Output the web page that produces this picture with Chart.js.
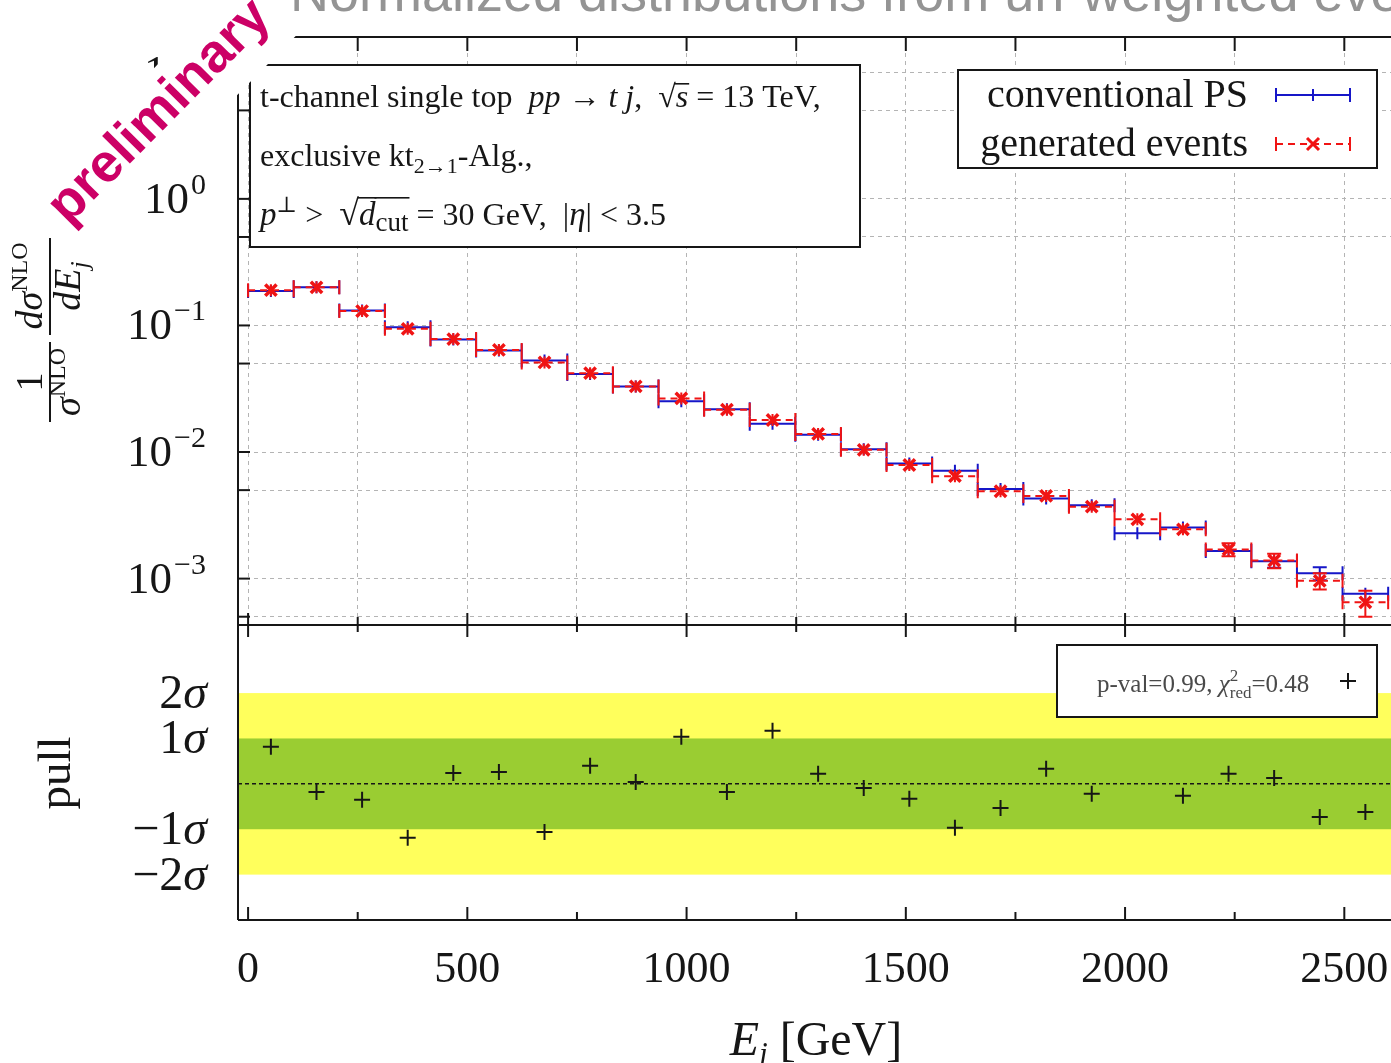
<!DOCTYPE html>
<html>
<head>
<meta charset="utf-8">
<script src="https://cdn.jsdelivr.net/npm/chart.js@4.4.0/dist/chart.umd.min.js"></script>
<style>
  html, body { margin: 0; padding: 0; background: #fff; overflow: hidden; }
  #wrap { position: relative; width: 1391px; height: 1063px; overflow: hidden; }
  canvas { position: absolute; left: 0; top: 0; }
</style>
</head>
<body>
<div id="wrap">
  <canvas id="specChart" width="1420" height="1063"></canvas>
  <canvas id="pullChart" width="1420" height="1063"></canvas>
</div>
<script>
// E_j binning, 104 GeV per bin
const binEdges = [0, 104, 208, 312, 416, 520, 624, 728, 832, 936, 1040, 1144, 1248, 1352,
  1456, 1560, 1664, 1768, 1872, 1976, 2080, 2184, 2288, 2392, 2496, 2600];
const binCenters = [52, 156, 260, 364, 468, 572, 676, 780, 884, 988, 1092, 1196, 1300, 1404,
  1508, 1612, 1716, 1820, 1924, 2028, 2132, 2236, 2340, 2444, 2548];

// normalised distributions
const conventionalPS = [0.1874, 0.2006, 0.131, 0.0967, 0.0775, 0.0635, 0.0529, 0.0413, 0.033,
  0.0252, 0.0218, 0.0167, 0.0137, 0.0105, 0.0081, 0.0071, 0.0051, 0.0043, 0.0038, 0.00228,
  0.00253, 0.00165, 0.00137, 0.00110, 0.00076];
const conventionalErr = [0.0020, 0.0021, 0.0018, 0.0015, 0.0014, 0.0013, 0.0012, 0.0011, 0.0009,
  0.0008, 0.0007, 0.0006, 0.00055, 0.00048, 0.0004, 0.0004, 0.00033, 0.0003, 0.00027, 0.00023,
  0.00022, 0.00017, 0.00015, 0.00013, 0.00007];
const generatedEv = [0.190, 0.200, 0.130, 0.094, 0.078, 0.064, 0.051, 0.042, 0.033, 0.0265,
  0.0216, 0.0179, 0.0139, 0.0104, 0.0079, 0.00645, 0.0049, 0.0045, 0.0037, 0.00294, 0.00245,
  0.0017, 0.00139, 0.00096, 0.00065];
const generatedErr = [0.0023, 0.0024, 0.0020, 0.0016, 0.0016, 0.0014, 0.0013, 0.0012, 0.0010,
  0.0009, 0.0008, 0.0007, 0.00063, 0.00052, 0.00043, 0.00042, 0.00034, 0.00034, 0.0003, 0.0003,
  0.00025, 0.0002, 0.00018, 0.00014, 0.00015];
// pull per bin in units of sigma
const pullValues = [0.82, -0.18, -0.35, -1.19, 0.24, 0.26, -1.06, 0.40, 0.04, 1.04, -0.18, 1.17,
  0.22, -0.09, -0.33, -0.97, -0.53, 0.33, -0.22, 1.9, -0.26, 0.22, 0.13, -0.73, -0.62];

const xTicks = [0, 250, 500, 750, 1000, 1250, 1500, 1750, 2000, 2250, 2500];
const xLabels = [0, 500, 1000, 1500, 2000, 2500];
const yTicks = [5e-4, 1e-3, 5e-3, 1e-2, 5e-2, 0.1, 0.5, 1, 5, 10];
const yPowers = [1, 0, -1, -2, -3];
const pullTicks = [2, 1, -1, -2];

const SERIF = '"Liberation Serif", "Times New Roman", "DejaVu Serif", serif';
const SANS = '"Liberation Sans", Arial, sans-serif';
const RED = '#f01414';
const BLUE = '#1616c8';
const GRID = '#b4b4b4';
const INK = '#161616';
const CAP = 7;

function fnt(p) { return (p.it ? 'italic ' : '') + p.s + 'px ' + SERIF; }
function runsWidth(ctx, parts) {
  let w = 0;
  parts.forEach(p => { ctx.font = fnt(p); if (p.adv !== false) w += ctx.measureText(p.t).width; });
  return w;
}
// draw a row of text pieces (italics, sub/superscripts, overlines)
function drawRuns(ctx, x, y, parts, overY) {
  parts.forEach(p => {
    ctx.font = fnt(p);
    ctx.fillText(p.t, x, y + (p.dy || 0));
    const w = ctx.measureText(p.t).width;
    if (p.over) ctx.fillRect(x - 1, y + overY, w + 2, 1.6);
    if (p.adv !== false) x += w;
  });
  return x;
}

function steps(vals) {
  const pts = [];
  vals.forEach((v, i) => {
    pts.push({x: binEdges[i], y: v}, {x: binEdges[i + 1], y: v}, {x: binEdges[i + 1], y: null});
  });
  return pts;
}

function drawBins(chart, vals, errs, color) {
  const {ctx, chartArea: a} = chart;
  const xs = chart.scales.x, ys = chart.scales.y;
  ctx.save();
  ctx.beginPath();
  ctx.rect(a.left, a.top, a.right - a.left, a.bottom - a.top);
  ctx.clip();
  ctx.strokeStyle = color;
  ctx.lineWidth = 2;
  ctx.beginPath();
  vals.forEach((v, i) => {
    const y = ys.getPixelForValue(v);
    const xl = xs.getPixelForValue(binEdges[i]);
    const xr = xs.getPixelForValue(binEdges[i + 1]);
    const xc = xs.getPixelForValue(binCenters[i]);
    const yt = Math.min(ys.getPixelForValue(v + errs[i]), y - 6);
    const yb = Math.max(ys.getPixelForValue(v - errs[i]), y + 6);
    ctx.moveTo(xl, y - CAP); ctx.lineTo(xl, y + CAP);
    ctx.moveTo(xr, y - CAP); ctx.lineTo(xr, y + CAP);
    ctx.moveTo(xc, yt); ctx.lineTo(xc, yb);
    if (y - yt > 6) { ctx.moveTo(xc - 7, yt); ctx.lineTo(xc + 7, yt); }
    if (yb - y > 6) { ctx.moveTo(xc - 7, yb); ctx.lineTo(xc + 7, yb); }
  });
  ctx.stroke();
  ctx.restore();
}

function line(ctx, x1, y1, x2, y2) {
  ctx.beginPath(); ctx.moveTo(x1, y1); ctx.lineTo(x2, y2); ctx.stroke();
}

const specDecor = {
  id: 'specDecor',
  beforeDatasetsDraw(chart) {
    drawBins(chart, conventionalPS, conventionalErr, BLUE);
  },
  afterDatasetsDraw(chart) {
    drawBins(chart, generatedEv, generatedErr, RED);
    const {ctx, chartArea: a} = chart;
    const xs = chart.scales.x, ys = chart.scales.y;
    ctx.save();
    ctx.strokeStyle = INK;
    ctx.lineWidth = 2;
    line(ctx, a.left, a.top, a.right, a.top);
    line(ctx, a.left, a.top, a.left, a.bottom);
    line(ctx, a.left, a.bottom, a.right, a.bottom);
    xTicks.forEach(v => {
      const x = xs.getPixelForValue(v);
      line(ctx, x, a.top, x, a.top + 14);
      line(ctx, x, a.bottom, x, a.bottom - (v % 500 === 0 ? 12 : 8));
    });
    yTicks.forEach(v => {
      const y = ys.getPixelForValue(v);
      line(ctx, a.left, y, a.left + 12, y);
    });
    ctx.restore();
  },
  afterDraw(chart) {
    const {ctx} = chart;
    const ys = chart.scales.y;
    ctx.save();
    ctx.fillStyle = INK;
    ctx.textBaseline = 'alphabetic';

    // decade labels 10^n
    yPowers.forEach(n => {
      const y = ys.getPixelForValue(Math.pow(10, n));
      const sup = n < 0 ? '\u2212' + (-n) : String(n);
      ctx.font = '30px ' + SERIF;
      const ws = ctx.measureText(sup).width;
      ctx.fillText(sup, 206 - ws, y - 5);
      ctx.font = '45px ' + SERIF;
      const wb = ctx.measureText('10').width;
      ctx.fillText('10', 206 - ws - wb - 2, y + 14);
    });

    // y axis title: 1/sigma^NLO dsigma^NLO/dE_j, rotated
    ctx.save();
    ctx.translate(50, 330);
    ctx.rotate(-Math.PI / 2);
    ctx.fillRect(-92, -1, 80, 2);
    ctx.fillRect(-5, -1, 97, 2);
    const num1 = [{t: '1', s: 38}];
    const den1 = [{t: '\u03c3', s: 38, it: true}, {t: 'NLO', s: 24, dy: -15}];
    const num2 = [{t: 'd\u03c3', s: 38, it: true}, {t: 'NLO', s: 24, dy: -15}];
    const den2 = [{t: 'dE', s: 38, it: true}, {t: 'j', s: 26, it: true, dy: 8}];
    drawRuns(ctx, -52 - runsWidth(ctx, num1) / 2, -8, num1, 0);
    drawRuns(ctx, -52 - runsWidth(ctx, den1) / 2, 30, den1, 0);
    drawRuns(ctx, 44 - runsWidth(ctx, num2) / 2, -8, num2, 0);
    drawRuns(ctx, 44 - runsWidth(ctx, den2) / 2, 30, den2, 0);
    ctx.restore();

    // process box
    ctx.fillStyle = '#fff';
    ctx.fillRect(250, 65, 610, 182);
    ctx.strokeStyle = INK;
    ctx.lineWidth = 2;
    ctx.strokeRect(250, 65, 610, 182);
    ctx.fillStyle = INK;
    drawRuns(ctx, 260, 107, [
      {t: 't-channel single top  ', s: 32}, {t: 'pp', s: 32, it: true}, {t: ' \u2192 ', s: 32},
      {t: 't j', s: 32, it: true}, {t: ',  ', s: 32}, {t: '\u221a', s: 32},
      {t: 's', s: 32, it: true, over: true}, {t: ' = 13 TeV,', s: 32}
    ], -24);
    drawRuns(ctx, 260, 166, [
      {t: 'exclusive kt', s: 32}, {t: '2\u21921', s: 22, dy: 7}, {t: '-Alg.,', s: 32}
    ], 0);
    drawRuns(ctx, 260, 225, [
      {t: 'p', s: 33, it: true}, {t: '\u22a5', s: 22, dy: -13}, {t: ' >  ', s: 32},
      {t: '\u221a', s: 36}, {t: 'd', s: 33, it: true, over: true},
      {t: 'cut', s: 27, dy: 6, over: true}, {t: ' = 30 GeV,  |', s: 32},
      {t: '\u03b7', s: 33, it: true}, {t: '| < 3.5', s: 32}
    ], -28);

    // legend
    ctx.fillStyle = '#fff';
    ctx.fillRect(958, 70, 419, 98);
    ctx.strokeRect(958, 70, 419, 98);
    ctx.fillStyle = INK;
    ctx.font = '40px ' + SERIF;
    ctx.textAlign = 'right';
    ctx.fillText('conventional PS', 1248, 107);
    ctx.fillText('generated events', 1248, 156);
    ctx.textAlign = 'left';
    ctx.lineWidth = 2;
    ctx.strokeStyle = BLUE;
    line(ctx, 1276, 95, 1350, 95);
    line(ctx, 1276, 88, 1276, 102);
    line(ctx, 1350, 88, 1350, 102);
    line(ctx, 1313, 89, 1313, 101);
    ctx.strokeStyle = RED;
    line(ctx, 1276, 137, 1276, 151);
    line(ctx, 1350, 137, 1350, 151);
    ctx.setLineDash([7, 5]);
    line(ctx, 1276, 144, 1350, 144);
    ctx.setLineDash([]);
    ctx.lineWidth = 3;
    line(ctx, 1307, 138, 1319, 150);
    line(ctx, 1307, 150, 1319, 138);

    // title line at the top
    ctx.fillStyle = '#949494';
    ctx.font = '54px ' + SANS;
    ctx.fillText('Normalized distributions from un-weighted events', 290, 11);

    // preliminary stamp
    ctx.translate(68, 226);
    ctx.rotate(-0.79);
    ctx.font = 'bold 54px ' + SANS;
    const w = ctx.measureText('preliminary').width;
    ctx.fillStyle = '#fff';
    ctx.fillRect(-8, -50, w + 16, 78);
    ctx.fillStyle = '#cc0066';
    ctx.fillText('preliminary', 0, 0);
    ctx.restore();
  }
};

const pullDecor = {
  id: 'pullDecor',
  beforeDatasetsDraw(chart) {
    const {ctx, chartArea: a} = chart;
    const ys = chart.scales.y;
    ctx.save();
    ctx.fillStyle = '#ffff5c';
    ctx.fillRect(a.left, ys.getPixelForValue(2), a.right - a.left, ys.getPixelForValue(-2) - ys.getPixelForValue(2));
    ctx.fillStyle = '#9acd32';
    ctx.fillRect(a.left, ys.getPixelForValue(1), a.right - a.left, ys.getPixelForValue(-1) - ys.getPixelForValue(1));
    ctx.strokeStyle = INK;
    ctx.lineWidth = 1.5;
    ctx.setLineDash([4, 3]);
    const y0 = ys.getPixelForValue(0);
    line(ctx, a.left, y0, a.right, y0);
    ctx.restore();
  },
  afterDatasetsDraw(chart) {
    const {ctx, chartArea: a} = chart;
    const xs = chart.scales.x, ys = chart.scales.y;
    ctx.save();
    ctx.strokeStyle = INK;
    ctx.fillStyle = INK;
    ctx.lineWidth = 2;
    line(ctx, a.left, a.top, a.right, a.top);
    line(ctx, a.left, a.top, a.left, a.bottom);
    line(ctx, a.left, a.bottom, a.right, a.bottom);
    xTicks.forEach(v => {
      const x = xs.getPixelForValue(v);
      const major = v % 500 === 0;
      line(ctx, x, a.top, x, a.top + (major ? 12 : 7));
      line(ctx, x, a.bottom, x, a.bottom - (major ? 13 : 8));
    });

    // sigma labels
    pullTicks.forEach(v => {
      const y = ys.getPixelForValue(v) + 15;
      const parts = [{t: (v < 0 ? '\u2212' : '') + Math.abs(v), s: 48}, {t: '\u03c3', s: 48, it: true}];
      drawRuns(ctx, 207 - runsWidth(ctx, parts), y, parts, 0);
    });

    // energy labels
    ctx.font = '44px ' + SERIF;
    ctx.textAlign = 'center';
    xLabels.forEach(v => ctx.fillText(String(v), xs.getPixelForValue(v), 982));
    ctx.textAlign = 'left';
    const xt = [{t: 'E', s: 48, it: true}, {t: 'j', s: 31, it: true, dy: 9}, {t: ' [GeV]', s: 48}];
    drawRuns(ctx, 816 - runsWidth(ctx, xt) / 2, 1055, xt, 0);

    // rotated "pull"
    ctx.save();
    ctx.translate(70, 773);
    ctx.rotate(-Math.PI / 2);
    ctx.font = '47px ' + SERIF;
    ctx.textAlign = 'center';
    ctx.fillText('pull', 0, 0);
    ctx.restore();

    // goodness-of-fit box
    ctx.fillStyle = '#fff';
    ctx.fillRect(1057, 645, 320, 72);
    ctx.strokeRect(1057, 645, 320, 72);
    ctx.fillStyle = '#4a4a4a';
    drawRuns(ctx, 1097, 692, [
      {t: 'p-val=0.99, ', s: 25}, {t: '\u03c7', s: 25, it: true},
      {t: '2', s: 17, dy: -11, adv: false}, {t: 'red', s: 17, dy: 6}, {t: '=0.48', s: 25}
    ], 0);
    ctx.strokeStyle = INK;
    line(ctx, 1340, 681, 1356, 681);
    line(ctx, 1348, 673, 1348, 689);
    ctx.restore();
  }
};

const sharedX = {
  type: 'linear', min: -23, max: 2627,
  ticks: {display: false},
  border: {display: false, dash: [4, 4]},
  afterBuildTicks: s => { s.ticks = xTicks.map(v => ({value: v})); },
  afterFit: s => { s.height = 0; }
};

new Chart(document.getElementById('specChart'), {
  type: 'line',
  data: {
    datasets: [{
      label: 'generated events',
      data: binCenters.map((x, i) => ({x: x, y: generatedEv[i]})),
      showLine: false,
      pointStyle: 'crossRot',
      pointRadius: 8,
      borderWidth: 3.5,
      borderColor: RED,
      backgroundColor: RED
    }, {
      label: 'generated events',
      data: steps(generatedEv),
      borderColor: RED,
      borderWidth: 2,
      borderDash: [7, 5],
      pointRadius: 0,
      spanGaps: false
    }, {
      label: 'conventional PS',
      data: steps(conventionalPS),
      borderColor: BLUE,
      borderWidth: 2,
      pointRadius: 0,
      spanGaps: false
    }]
  },
  options: {
    responsive: false,
    animation: false,
    devicePixelRatio: 1,
    layout: {padding: {left: 238, top: 37, right: 20, bottom: 438}},
    plugins: {legend: {display: false}, tooltip: {enabled: false}},
    scales: {
      x: Object.assign({}, sharedX, {grid: {color: GRID, lineWidth: 1, drawTicks: false}}),
      y: {
        type: 'logarithmic', min: 4.3e-4, max: 19,
        ticks: {display: false},
        grid: {color: GRID, lineWidth: 1, drawTicks: false},
        border: {display: false, dash: [4, 4]},
        afterBuildTicks: s => { s.ticks = yTicks.map(v => ({value: v})); },
        afterFit: s => { s.width = 0; }
      }
    }
  },
  plugins: [specDecor]
});

new Chart(document.getElementById('pullChart'), {
  type: 'scatter',
  data: {
    datasets: [{
      label: 'pull',
      data: binCenters.map((x, i) => ({x: x, y: pullValues[i]})),
      pointStyle: 'cross',
      pointRadius: 8,
      borderWidth: 2,
      borderColor: INK
    }]
  },
  options: {
    responsive: false,
    animation: false,
    devicePixelRatio: 1,
    layout: {padding: {left: 238, top: 625, right: 20, bottom: 143}},
    plugins: {legend: {display: false}, tooltip: {enabled: false}},
    scales: {
      x: Object.assign({}, sharedX, {grid: {display: false}}),
      y: {
        type: 'linear', min: -3, max: 3.5,
        ticks: {display: false},
        grid: {display: false},
        border: {display: false},
        afterFit: s => { s.width = 0; }
      }
    }
  },
  plugins: [pullDecor]
});
</script>
</body>
</html>
